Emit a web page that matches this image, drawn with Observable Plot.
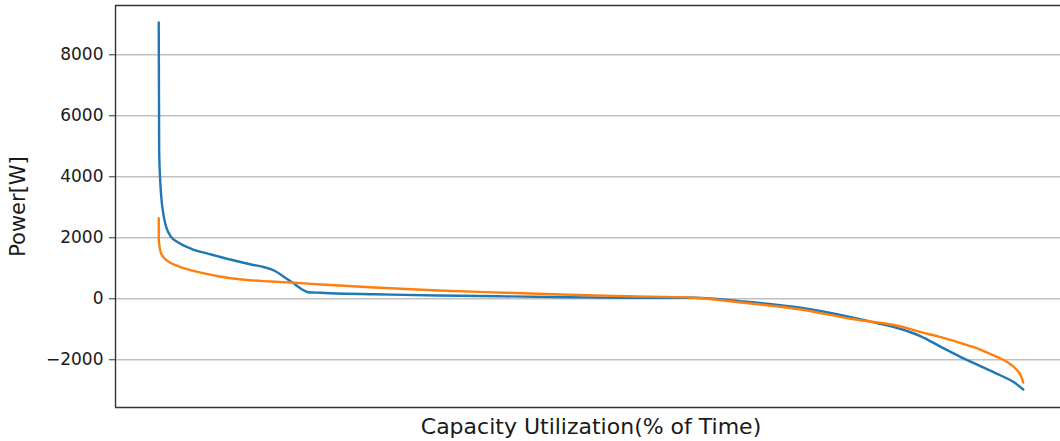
<!DOCTYPE html>
<html>
<head>
<meta charset="utf-8">
<script src="https://cdn.jsdelivr.net/npm/d3@7"></script>
<script src="https://cdn.jsdelivr.net/npm/@observablehq/plot@0.6"></script>
<style>
  html, body { margin: 0; padding: 0; background: #fff; }
  #chart svg { display: block; }
</style>
</head>
<body>
<div id="chart"></div>
<script>
// Duration-curve data: percent of time (x) vs power in W (y)
const blueTime = [0, 0.05, 0.17, 0.3, 0.55, 0.87, 1.45, 2.22, 3.76, 6.07, 8.38, 10.69, 12.23, 13.39, 14.54, 15.51, 16.47, 17.25, 18.79, 19.94, 25, 32.28, 40, 47.69, 54.24, 61.94, 67.72, 74.28, 80.06, 82.95, 85.84, 88.15, 90.46, 92.77, 95.09, 97.40, 98.94, 100];
const bluePower = [9060, 4860, 3880, 3320, 2750, 2348, 2020, 1856, 1640, 1453, 1279, 1125, 1035, 920, 708, 525, 328, 216, 197, 184, 150, 108, 80, 52, 33, 33, -89, -295, -603, -787, -990, -1230, -1575, -1910, -2215, -2515, -2740, -2974];

const orangeTime = [0, 0.01, 0.29, 1.06, 2.22, 4.14, 6.84, 9.92, 13.01, 15.70, 18.79, 25, 32.28, 40, 46.53, 54.24, 61.94, 67.72, 74.28, 80.06, 85.84, 88.15, 90.46, 92.77, 95.09, 97.02, 98.18, 99.13, 99.71, 100];
const orangePower = [2643, 1912, 1476, 1233, 1069, 905, 741, 623, 567, 525, 469, 370, 272, 200, 141, 85, 33, -131, -351, -656, -908, -1095, -1259, -1456, -1672, -1915, -2079, -2295, -2515, -2745];

const yTicks = [-2000, 0, 2000, 4000, 6000, 8000];
const xLabel = "Capacity Utilization(% of Time)";
const yLabel = "Power[W]";

const blue = blueTime.map((t, i) => ({t, p: bluePower[i]}));
const orange = orangeTime.map((t, i) => ({t, p: orangePower[i]}));

const xDomain = [-5, 105];
const yDomain = [-3564, 9616];
const fmt = d => d < 0 ? "\u2212" + Math.abs(d) : String(d);
const font = "DejaVu Sans, sans-serif";

const chart = Plot.plot({
  width: 1060,
  height: 441,
  marginLeft: 115,
  marginRight: 0,
  marginTop: 5,
  marginBottom: 34,
  style: {fontFamily: font, background: "#fff", color: "#1a1a1a"},
  x: {domain: xDomain, range: [115, 1066], axis: null},
  y: {domain: yDomain, axis: null},
  marks: [
    Plot.ruleY(yTicks, {stroke: "#c0c0c0", strokeWidth: 1.5}),
    Plot.line(blue, {x: "t", y: "p", stroke: "#1f77b4", strokeWidth: 2.4, curve: "monotone-x"}),
    Plot.line(orange, {x: "t", y: "p", stroke: "#ff7f0e", strokeWidth: 2.4, curve: "monotone-x"}),
    Plot.ruleY([yDomain[0], yDomain[1]], {stroke: "#333", strokeWidth: 1.4}),
    Plot.ruleX([xDomain[0]], {stroke: "#333", strokeWidth: 1.4}),
    Plot.axisY(yTicks, {tickSize: 6, tickPadding: 6, fontSize: 17, tickFormat: fmt, label: null, stroke: "#333"}),
    Plot.text([xLabel], {x: () => 50, frameAnchor: "bottom", dy: 19, lineAnchor: "middle", textAnchor: "middle", fontSize: 22, fill: "#1a1a1a"}),
    Plot.text([yLabel], {frameAnchor: "left", dx: -97, rotate: -90, lineAnchor: "middle", textAnchor: "middle", fontSize: 21, fill: "#1a1a1a"})
  ]
});
document.getElementById("chart").appendChild(chart);
</script>
</body>
</html>
